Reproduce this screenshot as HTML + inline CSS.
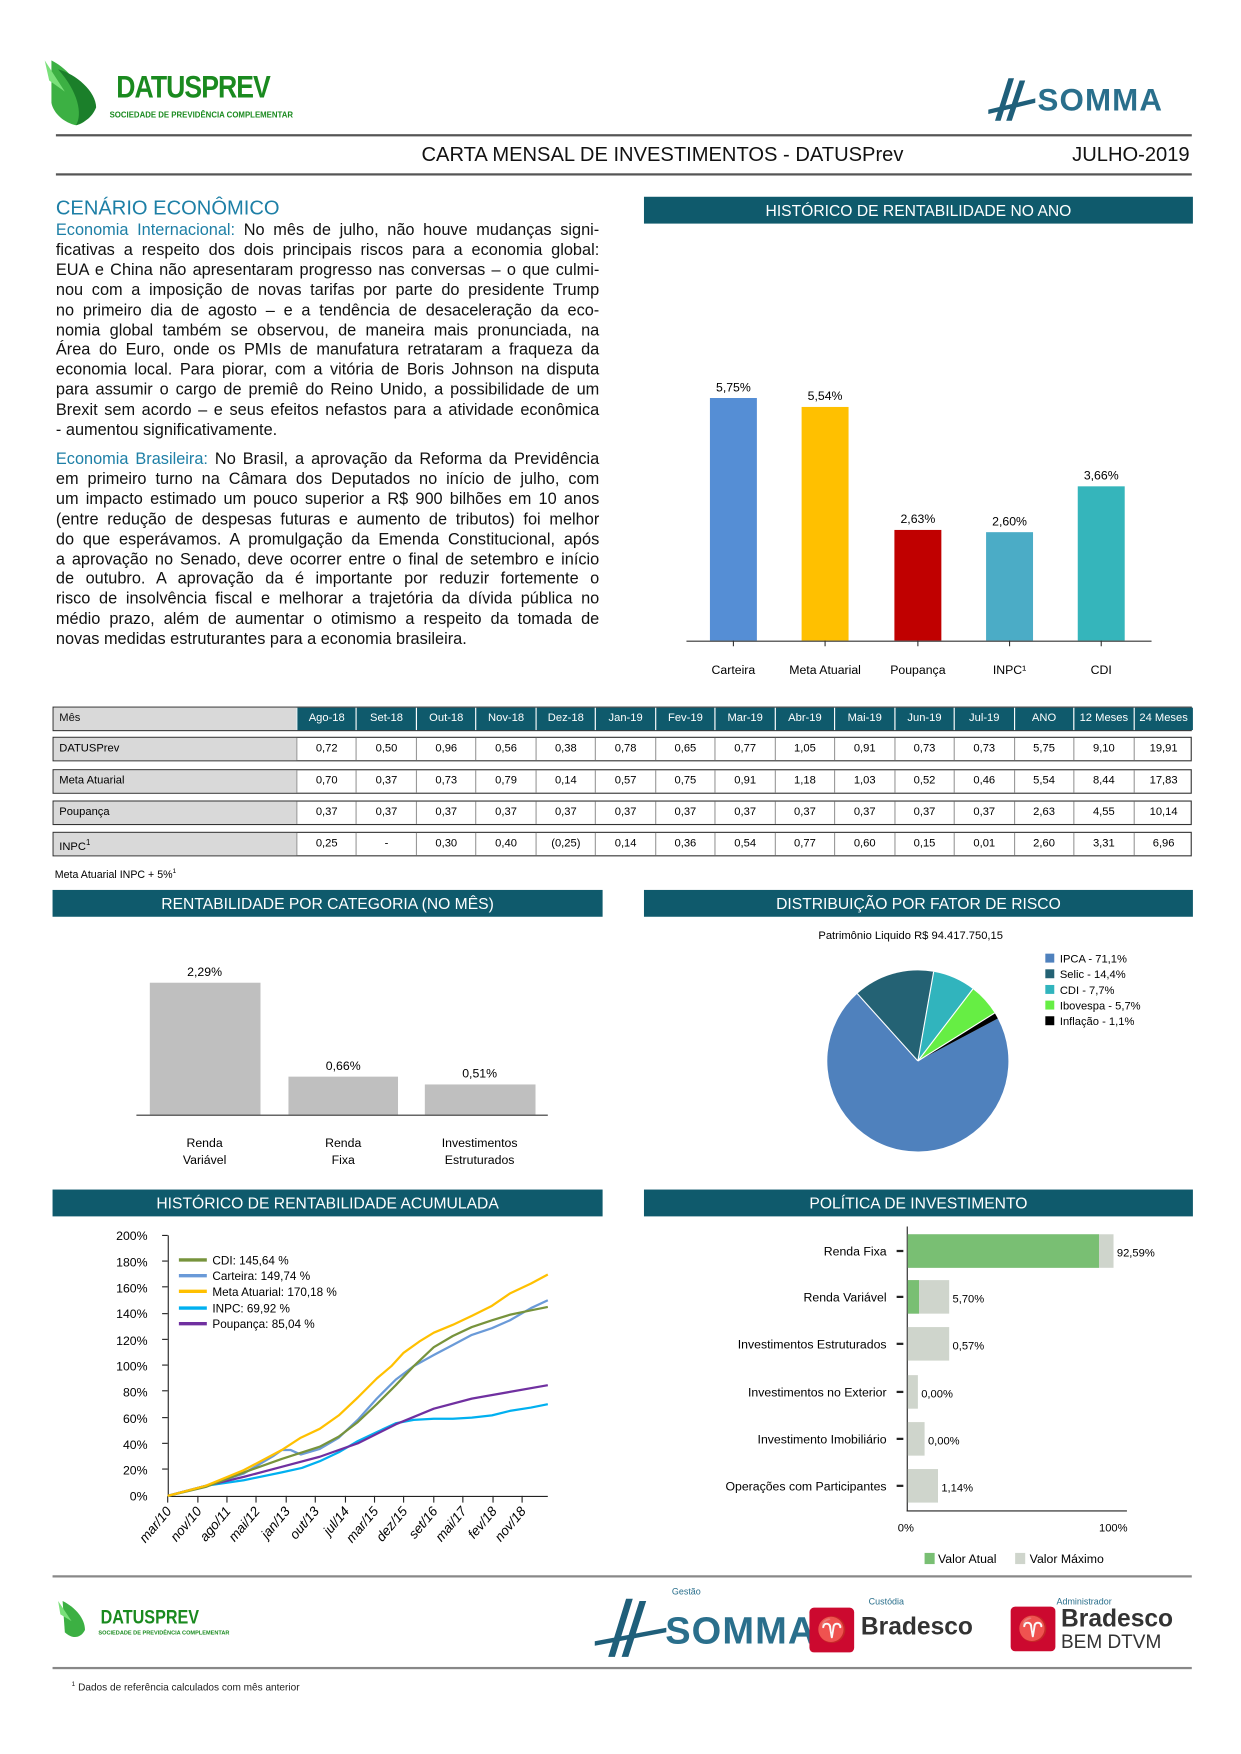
<!DOCTYPE html>
<html><head><meta charset="utf-8">
<style>
html,body{margin:0;padding:0;background:#fff;}
body{width:1241px;height:1754px;overflow:hidden;position:relative;font-family:"Liberation Sans",sans-serif;}
#w{position:absolute;left:0;top:0;width:1110px;height:1569px;transform:scale(1.118);transform-origin:0 0;}
.a{position:absolute;}
.bar{position:absolute;background:#0f5a6c;color:#fff;font-size:14px;text-align:center;line-height:24px;height:24px;}
.p div{text-align:justify;text-align-last:justify;white-space:nowrap;}
.p div.l{text-align-last:left;}
.p{font-size:14.6px;line-height:17.9px;color:#111;width:486px;}
.t{color:#1d7fa6;}
.row{position:absolute;left:47px;width:1019px;height:22px;display:flex;border:1px solid #333;box-sizing:border-box;}
.row div{flex:0 0 53.47px;box-sizing:border-box;border-left:1px solid #999;text-align:center;line-height:20px;font-size:10px;}
.row div.f{flex:0 0 217px;background:#d9d9d9;text-align:left;padding-left:5px;border-left:none;}
.hd div{background:#0f5a6c;color:#fff;border-left:1px solid #fff;}
.hd div.f{color:#111;}
</style></head><body><div id="w">
<svg class="a" style="left:38px;top:52px" width="60" height="62" viewBox="0 0 60 62"><path d="M8 2 C20 8 32 20 40 40 C44 50 40 58 30 60 C20 58 10 50 8 40 Z" fill="#3cb043"/><path d="M14 10 C30 14 48 30 48 44 C44 54 36 58 30 60 C36 50 32 30 14 10Z" fill="#1b7f2a"/><path d="M2 2 L20 30 L6 20Z" fill="#7ae07a"/></svg>
<div class="a" style="left:104px;top:62px;font-size:28px;font-weight:bold;color:#1a8a1f;letter-spacing:-1px;transform:scaleX(0.85);transform-origin:0 0">DATUSPREV</div>
<div class="a" style="left:98px;top:100px;font-size:7px;font-weight:bold;color:#1a8a1f">SOCIEDADE DE PREVIDÊNCIA COMPLEMENTAR</div>
<svg class="a" style="left:882px;top:68px" width="50" height="42"><path d="M20 2 L8 40 L13 40 L25 2Z M30 4 L18 40 L23 40 L35 4Z" fill="#1f5f7a"/><path d="M2 30 L44 20 L44 24 L2 34Z" fill="#1f5f7a"/></svg>
<div class="a" style="left:928px;top:74px;font-size:28px;color:#2a6f8c;font-weight:bold;letter-spacing:1px">SOMMA</div>
<div class="a" style="left:50px;top:120px;width:1016px;height:2px;background:#555"></div>
<div class="a" style="left:377px;top:128px;font-size:18px;color:#111">CARTA MENSAL DE INVESTIMENTOS - DATUSPrev</div>
<div class="a" style="left:959px;top:128px;font-size:18px;color:#111">JULHO-2019</div>
<div class="a" style="left:50px;top:155px;width:1016px;height:2px;background:#555"></div>

<div class="a" style="left:50px;top:176px;font-size:18px;color:#1d7fa6">CENÁRIO ECONÔMICO</div>
<div class="a p" style="left:50px;top:198px">
<div><span class="t">Economia Internacional:</span> No mês de julho, não houve mudanças signi-</div>
<div>ficativas a respeito dos dois principais riscos para a economia global:</div>
<div>EUA e China não apresentaram progresso nas conversas – o que culmi-</div>
<div>nou com a imposição de novas tarifas por parte do presidente Trump</div>
<div>no primeiro dia de agosto – e a tendência de desaceleração da eco-</div>
<div>nomia global também se observou, de maneira mais pronunciada, na</div>
<div>Área do Euro, onde os PMIs de manufatura retrataram a fraqueza da</div>
<div>economia local.  Para piorar, com a vitória de Boris Johnson na disputa</div>
<div>para assumir o cargo de premiê do Reino Unido, a possibilidade de um</div>
<div>Brexit sem acordo – e seus efeitos nefastos para a atividade econômica</div>
<div class="l">- aumentou significativamente.</div>
</div>
<div class="a p" style="left:50px;top:403px">
<div><span class="t">Economia Brasileira:</span> No Brasil, a aprovação da Reforma da Previdência</div>
<div>em primeiro turno na Câmara dos Deputados no início de julho, com</div>
<div>um impacto estimado um pouco superior a R$ 900 bilhões em 10 anos</div>
<div>(entre redução de despesas futuras e aumento de tributos) foi melhor</div>
<div>do que esperávamos.  A promulgação da Emenda Constitucional, após</div>
<div>a aprovação no Senado, deve ocorrer entre o final de setembro e início</div>
<div>de outubro.  A aprovação da é importante por reduzir fortemente o</div>
<div>risco de insolvência fiscal e melhorar a trajetória da dívida pública no</div>
<div>médio prazo, além de aumentar o otimismo a respeito da tomada de</div>
<div class="l">novas medidas estruturantes para a economia brasileira.</div>
</div>

<div class="bar" style="left:576px;top:176px;width:491px">HISTÓRICO DE RENTABILIDADE NO ANO</div>
<svg class="a" style="left:600px;top:330px" width="450" height="290" font-family="Liberation Sans" font-size="11" text-anchor="middle">
<rect x="35" y="26" width="42" height="217" fill="#558ed5"/>
<rect x="117" y="34" width="42" height="209" fill="#ffc000"/>
<rect x="200" y="144" width="42" height="99" fill="#c00000"/>
<rect x="282" y="146" width="42" height="97" fill="#4bacc6"/>
<rect x="364" y="105" width="42" height="138" fill="#35b5bb"/>
<line x1="14" y1="243.5" x2="430" y2="243.5" stroke="#333"/>
<g stroke="#333"><line x1="56" y1="243" x2="56" y2="248"/><line x1="138" y1="243" x2="138" y2="248"/><line x1="221" y1="243" x2="221" y2="248"/><line x1="303" y1="243" x2="303" y2="248"/><line x1="385" y1="243" x2="385" y2="248"/></g>
<text x="56" y="20">5,75%</text><text x="138" y="28">5,54%</text><text x="221" y="138">2,63%</text><text x="303" y="140">2,60%</text><text x="385" y="99">3,66%</text>
<text x="56" y="273">Carteira</text><text x="138" y="273">Meta Atuarial</text><text x="221" y="273">Poupança</text><text x="303" y="273">INPC¹</text><text x="385" y="273">CDI</text>
</svg>

<div class="row hd" style="top:632px"><div class="f">Mês</div><div>Ago-18</div><div>Set-18</div><div>Out-18</div><div>Nov-18</div><div>Dez-18</div><div>Jan-19</div><div>Fev-19</div><div>Mar-19</div><div>Abr-19</div><div>Mai-19</div><div>Jun-19</div><div>Jul-19</div><div>ANO</div><div>12 Meses</div><div>24 Meses</div></div>
<div class="row" style="top:659px"><div class="f">DATUSPrev</div><div>0,72</div><div>0,50</div><div>0,96</div><div>0,56</div><div>0,38</div><div>0,78</div><div>0,65</div><div>0,77</div><div>1,05</div><div>0,91</div><div>0,73</div><div>0,73</div><div>5,75</div><div>9,10</div><div>19,91</div></div>
<div class="row" style="top:688px"><div class="f">Meta Atuarial</div><div>0,70</div><div>0,37</div><div>0,73</div><div>0,79</div><div>0,14</div><div>0,57</div><div>0,75</div><div>0,91</div><div>1,18</div><div>1,03</div><div>0,52</div><div>0,46</div><div>5,54</div><div>8,44</div><div>17,83</div></div>
<div class="row" style="top:716px"><div class="f">Poupança</div><div>0,37</div><div>0,37</div><div>0,37</div><div>0,37</div><div>0,37</div><div>0,37</div><div>0,37</div><div>0,37</div><div>0,37</div><div>0,37</div><div>0,37</div><div>0,37</div><div>2,63</div><div>4,55</div><div>10,14</div></div>
<div class="row" style="top:744px"><div class="f">INPC<sup style="font-size:7px">1</sup></div><div>0,25</div><div>-</div><div>0,30</div><div>0,40</div><div>(0,25)</div><div>0,14</div><div>0,36</div><div>0,54</div><div>0,77</div><div>0,60</div><div>0,15</div><div>0,01</div><div>2,60</div><div>3,31</div><div>6,96</div></div>
<div class="a" style="left:49px;top:777px;font-size:9.5px">Meta Atuarial INPC + 5%<sup style="font-size:6px">1</sup></div>

<div class="bar" style="left:47px;top:796px;width:492px">RENTABILIDADE POR CATEGORIA (NO MÊS)</div>
<div class="bar" style="left:576px;top:796px;width:491px">DISTRIBUIÇÃO POR FATOR DE RISCO</div>
<svg class="a" style="left:100px;top:850px" width="420" height="200" font-family="Liberation Sans" font-size="11" text-anchor="middle">
<rect x="34" y="29" width="99" height="118" fill="#bfbfbf"/>
<rect x="158" y="113" width="98" height="34" fill="#bfbfbf"/>
<rect x="280" y="120" width="99" height="27" fill="#bfbfbf"/>
<line x1="22" y1="147.5" x2="390" y2="147.5" stroke="#333"/>
<text x="83" y="23">2,29%</text><text x="207" y="107">0,66%</text><text x="329" y="114">0,51%</text>
<text x="83" y="176">Renda</text><text x="83" y="191">Variável</text>
<text x="207" y="176">Renda</text><text x="207" y="191">Fixa</text>
<text x="329" y="176">Investimentos</text><text x="329" y="191">Estruturados</text>
</svg>

<div class="a" style="left:732px;top:832px;font-size:10px">Patrimônio Liquido R$ 94.417.750,15</div>
<svg class="a" style="left:700px;top:840px" width="360" height="220" font-family="Liberation Sans" font-size="10">
<g transform="translate(121,109)">
<path d="M0 0 L71.5 -38 A81 81 0 1 1 -54.2 -60.2 Z" fill="#4f81bd"/>
<path d="M0 0 L-54.2 -60.2 A81 81 0 0 1 14.1 -79.8 Z" fill="#246274"/>
<path d="M0 0 L14.1 -79.8 A81 81 0 0 1 49.2 -64.4 Z" fill="#31b4bd"/>
<path d="M0 0 L49.2 -64.4 A81 81 0 0 1 68.7 -42.9 Z" fill="#66ee44"/>
<path d="M0 0 L68.7 -42.9 A81 81 0 0 1 71.5 -38 Z" fill="#000"/>
<g stroke="#fff" stroke-width="1"><line x1="0" y1="0" x2="-54.2" y2="-60.2"/><line x1="0" y1="0" x2="14.1" y2="-79.8"/><line x1="0" y1="0" x2="49.2" y2="-64.4"/><line x1="0" y1="0" x2="68.7" y2="-42.9"/></g>
</g>
<rect x="235" y="13" width="8" height="8" fill="#4f81bd"/><text x="248" y="21">IPCA - 71,1%</text>
<rect x="235" y="27" width="8" height="8" fill="#246274"/><text x="248" y="35">Selic - 14,4%</text>
<rect x="235" y="41" width="8" height="8" fill="#31b4bd"/><text x="248" y="49">CDI - 7,7%</text>
<rect x="235" y="55" width="8" height="8" fill="#66ee44"/><text x="248" y="63">Ibovespa - 5,7%</text>
<rect x="235" y="69" width="8" height="8" fill="#000"/><text x="248" y="77">Inflação - 1,1%</text>
</svg>

<div class="bar" style="left:47px;top:1064px;width:492px">HISTÓRICO DE RENTABILIDADE ACUMULADA</div>
<div class="bar" style="left:576px;top:1064px;width:491px">POLÍTICA DE INVESTIMENTO</div>

<svg class="a" style="left:0;top:1090px" width="540" height="320" font-family="Liberation Sans" font-size="11">
<g transform="translate(0,-1090)">
<line x1="150.5" y1="1105" x2="150.5" y2="1339" stroke="#222"/>
<line x1="150" y1="1338.5" x2="490" y2="1338.5" stroke="#222"/>
<g text-anchor="end">
<text x="132" y="1109">200%</text><text x="132" y="1133">180%</text><text x="132" y="1156">160%</text><text x="132" y="1179">140%</text><text x="132" y="1203">120%</text><text x="132" y="1226">100%</text><text x="132" y="1249">80%</text><text x="132" y="1273">60%</text><text x="132" y="1296">40%</text><text x="132" y="1319">20%</text><text x="132" y="1342">0%</text>
</g>
<g stroke="#222"><line x1="145" y1="1105" x2="150" y2="1105"/><line x1="145" y1="1128" x2="150" y2="1128"/><line x1="145" y1="1151" x2="150" y2="1151"/><line x1="145" y1="1175" x2="150" y2="1175"/><line x1="145" y1="1198" x2="150" y2="1198"/><line x1="145" y1="1221" x2="150" y2="1221"/><line x1="145" y1="1244" x2="150" y2="1244"/><line x1="145" y1="1268" x2="150" y2="1268"/><line x1="145" y1="1291" x2="150" y2="1291"/><line x1="145" y1="1314" x2="150" y2="1314"/>
<line x1="150" y1="1338" x2="150" y2="1344"/><line x1="177" y1="1338" x2="177" y2="1344"/><line x1="203" y1="1338" x2="203" y2="1344"/><line x1="229" y1="1338" x2="229" y2="1344"/><line x1="256" y1="1338" x2="256" y2="1344"/><line x1="282" y1="1338" x2="282" y2="1344"/><line x1="309" y1="1338" x2="309" y2="1344"/><line x1="335" y1="1338" x2="335" y2="1344"/><line x1="361" y1="1338" x2="361" y2="1344"/><line x1="388" y1="1338" x2="388" y2="1344"/><line x1="414" y1="1338" x2="414" y2="1344"/><line x1="441" y1="1338" x2="441" y2="1344"/><line x1="467" y1="1338" x2="467" y2="1344"/></g>
<g text-anchor="end" font-style="italic" font-size="12">
<text transform="translate(154,1352) rotate(-50)">mar/10</text><text transform="translate(181,1352) rotate(-50)">nov/10</text><text transform="translate(207,1352) rotate(-50)">ago/11</text><text transform="translate(233,1352) rotate(-50)">mai/12</text><text transform="translate(260,1352) rotate(-50)">jan/13</text><text transform="translate(286,1352) rotate(-50)">out/13</text><text transform="translate(313,1352) rotate(-50)">jul/14</text><text transform="translate(339,1352) rotate(-50)">mar/15</text><text transform="translate(365,1352) rotate(-50)">dez/15</text><text transform="translate(392,1352) rotate(-50)">set/16</text><text transform="translate(418,1352) rotate(-50)">mai/17</text><text transform="translate(445,1352) rotate(-50)">fev/18</text><text transform="translate(471,1352) rotate(-50)">nov/18</text>
</g>
<g fill="none" stroke-width="2" stroke-linejoin="round">
<polyline stroke="#00b0f0" points="150,1338 184,1329 218,1324 252,1317 270,1313 286,1307 303,1299 320,1289 337,1281 354,1273 370,1270 388,1269 405,1269 422,1268 440,1266 456,1262 475,1259 490,1256"/>
<polyline stroke="#7030a0" points="150,1338 184,1329 218,1321 252,1312 286,1303 320,1291 354,1274 388,1260 422,1251 456,1245 490,1239"/>
<polyline stroke="#6a9ad8" points="150,1338 184,1329 218,1318 245,1302 252,1297 260,1297 269,1301 286,1296 303,1286 320,1270 337,1251 354,1234 370,1222 388,1212 405,1203 422,1194 440,1188 456,1181 475,1170 490,1163"/>
<polyline stroke="#77933c" points="150,1338 184,1330 218,1317 252,1305 286,1294 303,1285 320,1272 337,1256 354,1239 370,1222 388,1205 405,1195 422,1187 440,1181 456,1176 475,1172 490,1169"/>
<polyline stroke="#ffc000" points="150,1338 184,1329 218,1315 252,1297 269,1286 286,1278 303,1266 320,1250 337,1233 350,1222 361,1210 375,1200 388,1192 405,1185 422,1177 440,1168 456,1157 475,1148 490,1140"/>
</g>
<g font-size="10.5">
<line x1="160" y1="1127" x2="185" y2="1127" stroke="#77933c" stroke-width="3"/><text x="190" y="1131">CDI: 145,64 %</text>
<line x1="160" y1="1141" x2="185" y2="1141" stroke="#6a9ad8" stroke-width="3"/><text x="190" y="1145">Carteira: 149,74 %</text>
<line x1="160" y1="1155" x2="185" y2="1155" stroke="#ffc000" stroke-width="3"/><text x="190" y="1159">Meta Atuarial: 170,18 %</text>
<line x1="160" y1="1170" x2="185" y2="1170" stroke="#00b0f0" stroke-width="3"/><text x="190" y="1174">INPC: 69,92 %</text>
<line x1="160" y1="1184" x2="185" y2="1184" stroke="#7030a0" stroke-width="3"/><text x="190" y="1188">Poupança: 85,04 %</text>
</g>
</g></svg>

<svg class="a" style="left:560px;top:1090px" width="520" height="320" font-family="Liberation Sans" font-size="11">
<g transform="translate(-560,-1090)">
<line x1="811.5" y1="1097" x2="811.5" y2="1352" stroke="#222"/>
<line x1="811" y1="1351.5" x2="1008" y2="1351.5" stroke="#222"/>
<rect x="812" y="1104" width="184" height="30" fill="#cfd5cc"/><rect x="812" y="1104" width="171" height="30" fill="#79bf73"/>
<rect x="812" y="1145" width="37" height="30" fill="#cfd5cc"/><rect x="812" y="1145" width="10" height="30" fill="#79bf73"/>
<rect x="812" y="1187" width="37" height="30" fill="#cfd5cc"/>
<rect x="812" y="1230" width="9" height="30" fill="#cfd5cc"/>
<rect x="812" y="1272" width="15" height="30" fill="#cfd5cc"/>
<rect x="812" y="1314" width="27" height="30" fill="#cfd5cc"/>
<g stroke="#222" stroke-width="2"><line x1="802" y1="1119" x2="808" y2="1119"/><line x1="802" y1="1160" x2="808" y2="1160"/><line x1="802" y1="1202" x2="808" y2="1202"/><line x1="802" y1="1245" x2="808" y2="1245"/><line x1="802" y1="1287" x2="808" y2="1287"/><line x1="802" y1="1329" x2="808" y2="1329"/></g>
<g text-anchor="end"><text x="793" y="1123">Renda Fixa</text><text x="793" y="1164">Renda Variável</text><text x="793" y="1206">Investimentos Estruturados</text><text x="793" y="1249">Investimentos no Exterior</text><text x="793" y="1291">Investimento Imobiliário</text><text x="793" y="1333">Operações com Participantes</text></g>
<g font-size="10"><text x="999" y="1124">92,59%</text><text x="852" y="1165">5,70%</text><text x="852" y="1207">0,57%</text><text x="824" y="1250">0,00%</text><text x="830" y="1292">0,00%</text><text x="842" y="1334">1,14%</text></g>
<text x="803" y="1370" font-size="10">0%</text><text x="983" y="1370" font-size="10">100%</text>
<rect x="827" y="1389" width="9" height="10" fill="#79bf73"/><text x="839" y="1398">Valor Atual</text>
<rect x="908" y="1389" width="9" height="10" fill="#cfd5cc"/><text x="921" y="1398">Valor Máximo</text>
</g></svg>

<div class="a" style="left:47px;top:1409px;width:1019px;height:2px;background:#888"></div>
<svg class="a" style="left:50px;top:1430px" width="34" height="38"><path d="M6 2 C18 8 26 18 26 28 C22 36 14 36 8 30 Z" fill="#3cb043"/><path d="M2 2 L14 20 L4 14Z" fill="#7ae07a"/></svg>
<div class="a" style="left:90px;top:1437px;font-size:17px;font-weight:bold;color:#1a8a1f;transform:scaleX(0.85);transform-origin:0 0">DATUSPREV</div>
<div class="a" style="left:88px;top:1458px;font-size:5px;font-weight:bold;color:#1a8a1f">SOCIEDADE DE PREVIDÊNCIA COMPLEMENTAR</div>
<div class="a" style="left:601px;top:1419px;font-size:8px;color:#2a6f8c">Gestão</div>
<svg class="a" style="left:530px;top:1428px" width="70" height="56"><path d="M30 2 L14 54 L20 54 L36 2Z M42 4 L26 54 L32 54 L48 4Z" fill="#1f5f7a"/><path d="M2 40 L66 28 L66 32 L2 44Z" fill="#1f5f7a"/></svg>
<div class="a" style="left:595px;top:1440px;font-size:34px;color:#2a6f8c;font-weight:bold;letter-spacing:1px">SOMMA</div>
<div class="a" style="left:777px;top:1428px;font-size:8px;color:#2a6f8c">Custódia</div>
<div class="a" style="left:724px;top:1438px;width:40px;height:40px;background:#cc092f;border-radius:4px;color:#fff;font-size:22px;text-align:center;line-height:40px">♈</div>
<div class="a" style="left:770px;top:1442px;font-size:22px;font-weight:bold;color:#333">Bradesco</div>
<div class="a" style="left:945px;top:1428px;font-size:8px;color:#2a6f8c">Administrador</div>
<div class="a" style="left:904px;top:1437px;width:40px;height:40px;background:#cc092f;border-radius:4px;color:#fff;font-size:22px;text-align:center;line-height:40px">♈</div>
<div class="a" style="left:949px;top:1435px;font-size:22px;font-weight:bold;color:#333">Bradesco</div>
<div class="a" style="left:949px;top:1459px;font-size:17px;color:#333">BEM DTVM</div>
<div class="a" style="left:47px;top:1491px;width:1019px;height:2px;background:#888"></div>
<div class="a" style="left:64px;top:1504px;font-size:9px;color:#222"><sup style="font-size:6px">1</sup> Dados de referência calculados com mês anterior</div>
</div></body></html>
